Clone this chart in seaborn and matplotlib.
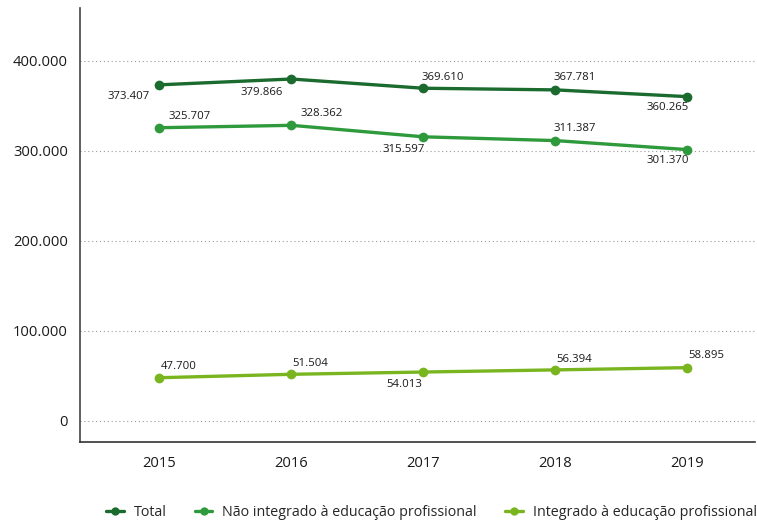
import matplotlib
matplotlib.use("Agg")
import matplotlib.pyplot as plt
import seaborn as sns
import pandas as pd

anos = [2015, 2016, 2017, 2018, 2019]
total = [373407, 379866, 369610, 367781, 360265]
nao_integrado = [325707, 328362, 315597, 311387, 301370]
integrado = [47700, 51504, 54013, 56394, 58895]
series = ["Total", "Não integrado à educação profissional", "Integrado à educação profissional"]
cores = ["#1b6b2f", "#2f9a3c", "#79b51f"]
yticks = [0, 100000, 200000, 300000, 400000]

# label offsets in pixels (dx, dy) for each point of each series
offsets = {
    "Total": [(-31, -12), (-30, -13), (19, 11), (19, 12), (-20, -11)],
    "Não integrado à educação profissional": [(30, 11), (30, 12), (-20, -13), (19, 12), (-20, -11)],
    "Integrado à educação profissional": [(19, 11), (19, 11), (-19, -12), (19, 10), (19, 12)],
}

def fmt(v):
    return f"{v:,}".replace(",", ".")

df = pd.DataFrame({
    "ano": anos * 3,
    "valor": total + nao_integrado + integrado,
    "serie": [series[0]] * 5 + [series[1]] * 5 + [series[2]] * 5,
})

sns.set_style("white")
plt.rcParams["font.family"] = ["Open Sans", "DejaVu Sans"]

fig = plt.figure(figsize=(7.57, 5.24), dpi=100)
ax = fig.add_axes([0.106, 0.157, 0.891, 0.828])

sns.lineplot(data=df, x="ano", y="valor", hue="serie", hue_order=series,
             palette=cores, marker="o", markersize=7, markeredgewidth=0,
             linewidth=2.4, ax=ax, legend=False)

for s, vals, c in zip(series, [total, nao_integrado, integrado], cores):
    for x, v, (dx, dy) in zip(anos, vals, offsets[s]):
        ax.annotate(fmt(v), (x, v), xytext=(dx * 0.72, dy * 0.72),
                    textcoords="offset points", ha="center", va="center",
                    fontsize=8.2, color="#1a1a1a")

ax.set_xlim(2014.4, 2019.51)
ax.set_ylim(-23500, 459000)
ax.set_xticks(anos)
ax.set_xticklabels([str(a) for a in anos], fontsize=10.6, color="#1a1a1a")
ax.set_yticks(yticks)
ax.set_yticklabels([fmt(v) for v in yticks], fontsize=10.6, color="#1a1a1a")
ax.tick_params(axis="y", length=0, pad=9)
ax.tick_params(axis="x", length=4, color="#bbbbbb", pad=6, direction="out")
ax.set_xlabel("")
ax.set_ylabel("")

for y in yticks:
    ax.axhline(y, color="#999999", linestyle=(0, (1, 2.5)), linewidth=0.8, zorder=0)

for side in ["top", "right"]:
    ax.spines[side].set_visible(False)
ax.spines["left"].set_color("#444444")
ax.spines["left"].set_linewidth(1.2)
ax.spines["bottom"].set_color("#333333")
ax.spines["bottom"].set_linewidth(1.2)

handles = [plt.Line2D([], [], color=c, marker="o", markersize=6, linewidth=2.4,
                      markeredgewidth=0) for c in cores]
fig.legend(handles, series, loc="center", bbox_to_anchor=(0.57, 0.022), ncol=3,
           frameon=False, fontsize=10.3, handlelength=1.2, handletextpad=0.7,
           columnspacing=2.0, borderpad=0)

fig.savefig("out.png", dpi=100)
